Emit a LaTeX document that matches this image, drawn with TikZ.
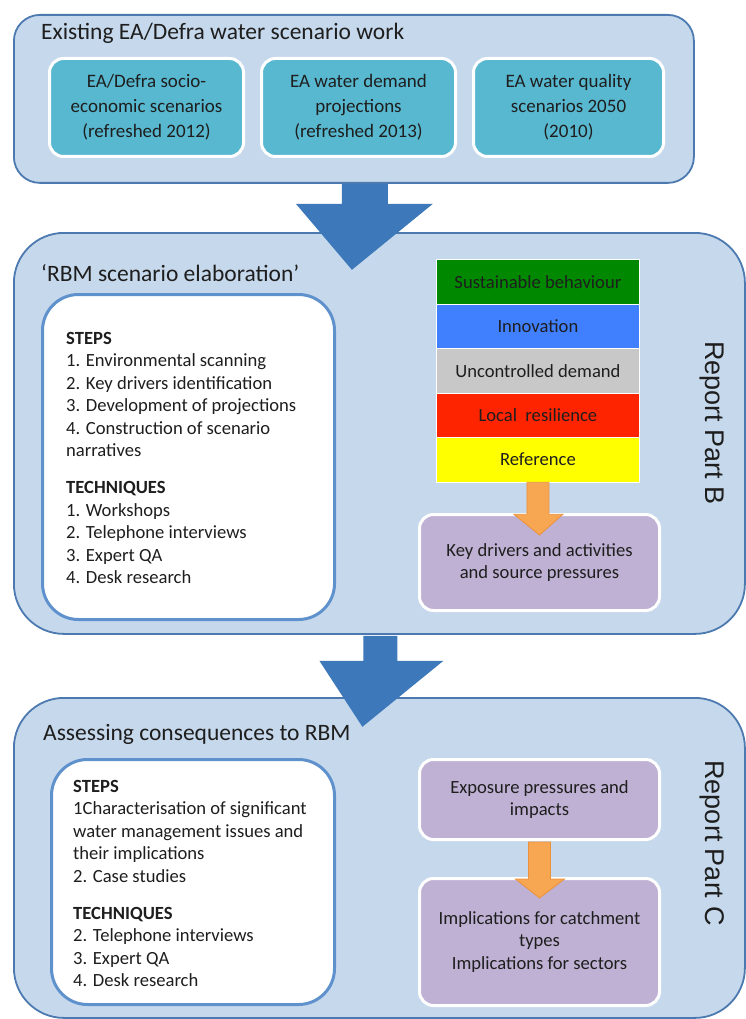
\documentclass[tikz,border=0pt]{standalone}
\usepackage{fontspec}
\setmainfont{Carlito}
\newfontfamily\arialfont{Liberation Sans}
\usetikzlibrary{calc}
\definecolor{panelfill}{RGB}{198,216,235}
\definecolor{paneldraw}{RGB}{76,122,176}
\definecolor{tealfill}{RGB}{88,184,208}
\definecolor{innerdraw}{RGB}{95,145,205}
\definecolor{bigarrow}{RGB}{60,120,186}
\definecolor{orangefill}{RGB}{247,166,82}
\definecolor{orangedraw}{RGB}{235,145,60}
\definecolor{purplefill}{RGB}{191,177,211}
\definecolor{bandgreen}{RGB}{0,136,0}
\definecolor{bandblue}{RGB}{64,128,255}
\definecolor{bandgrey}{RGB}{200,200,200}
\definecolor{bandred}{RGB}{255,36,0}
\definecolor{bandyellow}{RGB}{255,255,0}
\definecolor{txt}{RGB}{30,30,30}
\tikzset{
  panel/.style={draw=paneldraw, line width=1.8pt, fill=panelfill, anchor=north west, inner sep=0pt},
  tealbox/.style={draw=white, line width=3pt, fill=tealfill, rounded corners=14pt, anchor=north west, inner sep=0pt, align=center, text=txt, font=\fontsize{19}{25}\selectfont},
  whitebox/.style={draw=innerdraw, line width=3pt, fill=white, rounded corners=36pt, anchor=north west, inner sep=0pt},
  purplebox/.style={draw=white, line width=3pt, fill=purplefill, rounded corners=14pt, anchor=north west, inner sep=0pt, align=center, text=txt, font=\fontsize{18.6}{22.5}\selectfont},
  band/.style={draw=white, line width=0.8pt, anchor=north west, minimum width=203pt, minimum height=44.5pt, inner sep=0pt, text=txt, font=\fontsize{18.6}{20}\selectfont},
  paneltitle/.style={anchor=west, inner sep=0pt, text=txt, font=\fontsize{23.5}{26}\selectfont},
  listtext/.style={anchor=north west, inner sep=0pt, align=left, text=txt, font=\fontsize{18.6}{22.4}\selectfont},
  sidelabel/.style={rotate=-90, inner sep=0pt, text=txt, font=\arialfont\fontsize{27}{30}\selectfont},
  bluearrow/.style={fill=bigarrow},
  orangearrow/.style={fill=orangefill, draw=orangedraw, line width=0.8pt, line join=miter}
}
\begin{document}
\begin{tikzpicture}[x=1pt,y=-1pt]
\useasboundingbox (0,0) rectangle (745,1019);

% ---------- top panel ----------
\node[panel, rounded corners=26pt, minimum width=680pt, minimum height=168pt] (top) at (13,14) {};
\node[paneltitle] (toptitle) at (41,33) {Existing EA/Defra water scenario work};
\node[tealbox, minimum width=194pt, minimum height=98pt] (ea1) at (48,57) {EA/Defra socio-\\economic scenarios\\(refreshed 2012)};
\node[tealbox, minimum width=194pt, minimum height=98pt] (ea2) at (260,57) {EA water demand\\projections\\(refreshed 2013)};
\node[tealbox, minimum width=190pt, minimum height=98pt] (ea3) at (472,57) {EA water quality\\scenarios 2050\\(2010)};

% ---------- middle panel ----------
\node[panel, rounded corners=50pt, minimum width=731pt, minimum height=401pt] (mid) at (13,232) {};
\node[paneltitle] (midtitle) at (41,273) {‘RBM scenario elaboration’};
\node[whitebox, minimum width=292pt, minimum height=325pt] (midlist) at (41,293) {};
\node[listtext] (midtext) at (66,332) {\textbf{STEPS}\\
1. Environmental scanning\\
2. Key drivers identification\\
3. Development of projections\\
4. Construction of scenario\\
narratives\\[15pt]
\textbf{TECHNIQUES}\\
1. Workshops\\
2. Telephone interviews\\
3. Expert QA\\
4. Desk research};

\node[band, fill=bandgreen] (b1) at (436,259) {Sustainable behaviour};
\node[band, fill=bandblue] (b2) at (436,303.5) {Innovation};
\node[band, fill=bandgrey] (b3) at (436,348) {Uncontrolled demand};
\node[band, fill=bandred] (b4) at (436,392.5) {Local\ \ resilience};
\node[band, fill=bandyellow] (b5) at (436,437) {Reference};

\node[purplebox, minimum width=240pt, minimum height=96pt] (keyd) at (418,513) {Key drivers and activities\\and source pressures};
\node[sidelabel] (partb) at (712,423) {Report Part B};

% ---------- bottom panel ----------
\node[panel, rounded corners=50pt, minimum width=731pt, minimum height=320pt] (bot) at (13,697) {};
\node[paneltitle] (bottitle) at (43,734) {Assessing consequences to RBM};
\node[whitebox, minimum width=283pt, minimum height=245pt] (botlist) at (50,758) {};
\node[listtext] (bottext) at (73,780) {\textbf{STEPS}\\
1Characterisation of significant\\
water management issues and\\
their implications\\
2. Case studies\\[15pt]
\textbf{TECHNIQUES}\\
2. Telephone interviews\\
3. Expert QA\\
4. Desk research};

\node[purplebox, minimum width=240pt, minimum height=80pt] (expo) at (418,758) {Exposure pressures and\\impacts};
\node[purplebox, minimum width=240pt, minimum height=127pt] (impl) at (418,877) {Implications for catchment\\types\\Implications for sectors};
\node[sidelabel] (partc) at (712,843) {Report Part C};

% ---------- block arrows ----------
\fill[bluearrow] ($(top.south)+(-12,0)$) coordinate (a1) -- ++(0,20) -- ++(-46,0) -- ($(top.south)+(-2,86)$) -- ($(top.south)+(79,20)$) -- ++(-45,0) -- ++(0,-20) -- cycle;
\fill[bluearrow] ($(mid.south)+(-16,1)$) coordinate (a2) -- ++(0,25) -- ++(-44,0) -- ($(mid.south)+(-17,92)$) -- ($(mid.south)+(64,26)$) -- ++(-46,0) -- ++(0,-25) -- cycle;

\draw[orangearrow] ($(b5.south)+(-11,0)$) -- ++(0,32) -- ++(-13,0) -- ($(keyd.north)+(0,22)$) -- ($(b5.south)+(25,32)$) -- ++(-14,0) -- ++(0,-32) -- cycle;
\draw[orangearrow] ($(expo.south)+(-11,1)$) -- ++(0,37) -- ++(-13,0) -- ($(impl.north)+(0,21)$) -- ($(expo.south)+(25,38)$) -- ++(-14,0) -- ++(0,-37) -- cycle;
\end{tikzpicture}
\end{document}
